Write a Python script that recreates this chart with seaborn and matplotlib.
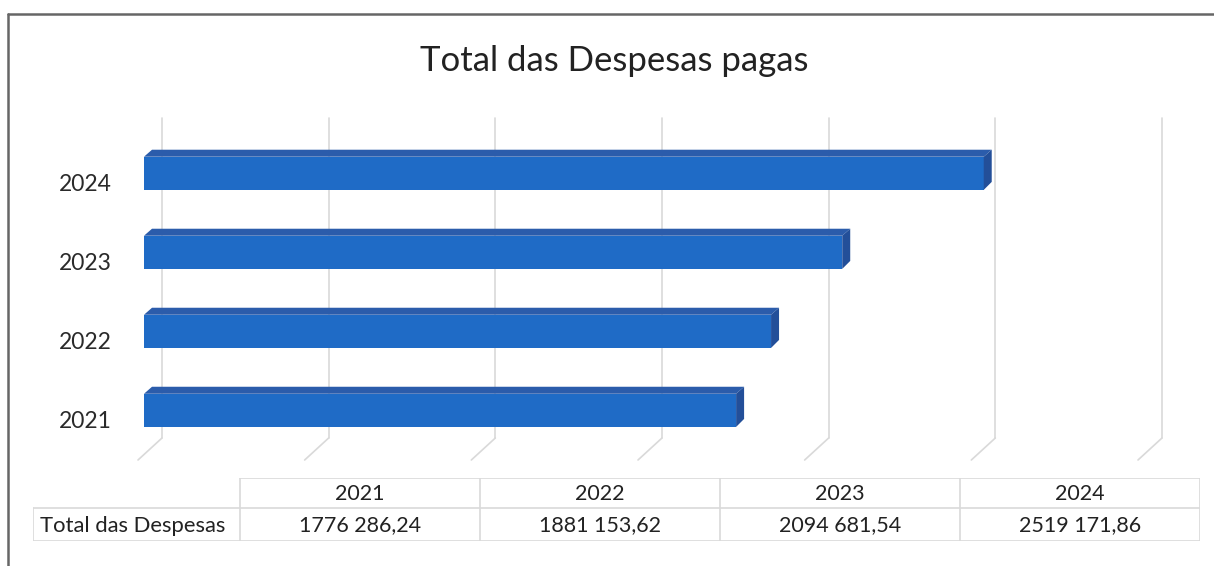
import numpy as np
import pandas as pd
import seaborn as sns
import matplotlib.pyplot as plt
from matplotlib.lines import Line2D
from matplotlib.patches import Polygon
from matplotlib.transforms import blended_transform_factory, ScaledTranslation

years = ['2021', '2022', '2023', '2024']
totals = [1776286.24, 1881153.62, 2094681.54, 2519171.86]
row_label = 'Total das Despesas'
title = 'Total das Despesas pagas'
grid_ticks = [0, 500000, 1000000, 1500000, 2000000, 2500000, 3000000]

front_col = '#1f6bc6'
top_col = '#2b5cab'
side_col = '#234f99'
grid_col = '#d9d9d9'


def fmt(v):
    # "1776 286,24" style as in the original table
    whole = int(v)
    cents = int(round((v - whole) * 100))
    return f"{whole // 1000} {whole % 1000:03d},{cents:02d}"


W, H = 1214, 566
sns.set_theme(style='white')
plt.rcParams['font.family'] = ['Lato', 'DejaVu Sans']

fig = plt.figure(figsize=(W / 100, H / 100), dpi=100)
fig.patch.set_facecolor('white')

# main axes (front plane of the bars)
ax = fig.add_axes([144 / W, (H - 438) / H, 1000 / W, 320 / H])
df = pd.DataFrame({'year': years, 'total': totals})
order = years[::-1]
sns.barplot(data=df, x='total', y='year', order=order, orient='h',
            color=front_col, saturation=1, width=0.42, linewidth=0,
            ax=ax, zorder=3)
ax.set_xlim(0, 3000000)
ax.set_ylim(3.35, -0.70)
ax.set_xlabel('')
ax.set_ylabel('')
ax.set_xticks([])
ax.tick_params(axis='y', length=0, pad=23, labelsize=16.5, labelcolor='#2a2a2a')
for lab in ax.get_yticklabels():
    lab.set_transform(lab.get_transform() +
                      ScaledTranslation(0, -9 / 100, fig.dpi_scale_trans))
for s in ax.spines.values():
    s.set_visible(False)
ax.patch.set_alpha(0)

# gridlines with a 3D-ish slanted foot
bt = blended_transform_factory(ax.transData, ax.transAxes)
back = bt + ScaledTranslation(18 / 100, 0, fig.dpi_scale_trans)
foot = bt + ScaledTranslation(-6 / 100, -22 / 100, fig.dpi_scale_trans)
for g in grid_ticks:
    ax.add_line(Line2D([g, g], [0, 1], transform=back, color=grid_col,
                       lw=1.2, zorder=1, clip_on=False))
    p0 = back.transform((g, 0))
    p1 = foot.transform((g, 0))
    ax.add_line(Line2D([p0[0], p1[0]], [p0[1], p1[1]], transform=None,
                       color=grid_col, lw=1.2, zorder=1, clip_on=False))

# top and side faces of the bars
fig.canvas.draw()
inv = fig.transFigure.inverted()
d = 8
for patch in ax.patches:
    x0, y0 = patch.get_x(), patch.get_y()
    x1, y1 = x0 + patch.get_width(), y0 + patch.get_height()
    (px0, pyt) = ax.transData.transform((x0, y0))
    (px1, pyb) = ax.transData.transform((x1, y1))
    top = [(px0, pyt), (px1, pyt), (px1 + d, pyt + d - 1), (px0 + d, pyt + d - 1)]
    side = [(px1, pyt), (px1 + d, pyt + d - 1), (px1 + d, pyb + d), (px1, pyb)]
    for pts, c in [(top, top_col), (side, side_col)]:
        fig.add_artist(Polygon(inv.transform(pts), closed=True, facecolor=c,
                               edgecolor='none', transform=fig.transFigure, zorder=4))

fig.text(614 / W, 1 - 61 / H, title, ha='center', va='center',
         fontsize=25, color='#222222')

# data table
tx0, tx1, ty0, ty1 = 33, 1200, 478, 541
ax_t = fig.add_axes([tx0 / W, (H - ty1) / H, (tx1 - tx0) / W, (ty1 - ty0) / H])
ax_t.set_xlim(tx0, tx1)
ax_t.set_ylim(ty1, ty0)
ax_t.axis('off')
col_edges = [33, 240, 480, 720, 960, 1200]
mid = 508
lk = dict(color=grid_col, lw=1.2)
ax_t.plot([240, 1200], [ty0, ty0], **lk)
ax_t.plot([33, 1200], [mid, mid], **lk)
ax_t.plot([33, 1200], [ty1, ty1], **lk)
ax_t.plot([33, 33], [mid, ty1], **lk)
for xe in col_edges[1:]:
    ax_t.plot([xe, xe], [ty0, ty1], **lk)
for i, (yr, v) in enumerate(zip(years, totals)):
    cx = (col_edges[i + 1] + col_edges[i + 2]) / 2
    ax_t.text(cx, (ty0 + mid) / 2 + 1, yr, ha='center', va='center',
              fontsize=15.5, color='#222222')
    ax_t.text(cx, (mid + ty1) / 2 + 1, fmt(v), ha='center', va='center',
              fontsize=15.5, color='#222222')
ax_t.text(40, (mid + ty1) / 2 + 1, row_label, ha='left', va='center',
          fontsize=15.8, color='#222222')

# outer frame (left and top only, as in the scan)
fig.add_artist(Line2D([8 / W, 8 / W], [0, 1 - 14 / H], transform=fig.transFigure,
                      color='#666666', lw=1.8))
fig.add_artist(Line2D([8 / W, 1], [1 - 14 / H, 1 - 14 / H], transform=fig.transFigure,
                      color='#666666', lw=1.8))

fig.savefig('out.png', dpi=100)
